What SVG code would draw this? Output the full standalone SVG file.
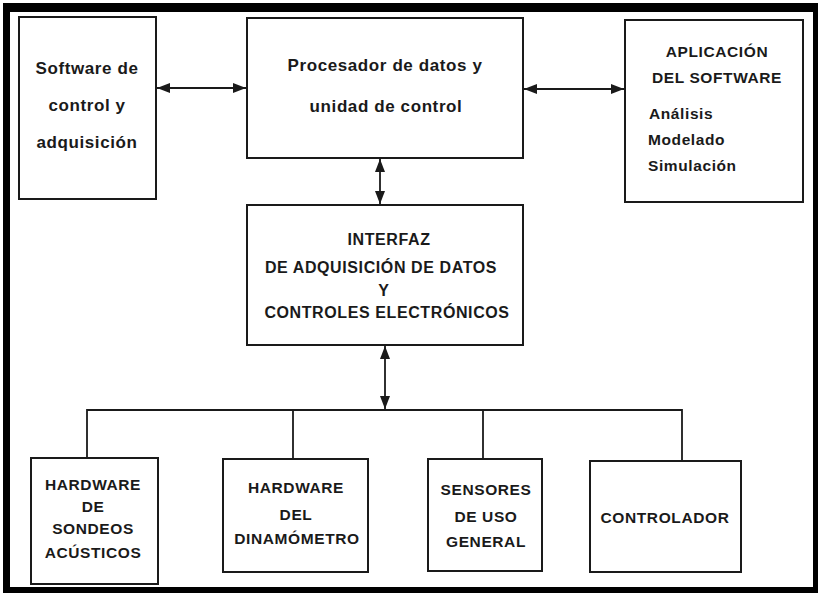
<svg xmlns="http://www.w3.org/2000/svg" width="821" height="595" viewBox="0 0 821 595">
<defs>
<style>
.box{fill:#fff;stroke:#1a1a1a;stroke-width:2}
.ln{fill:none;stroke:#1a1a1a;stroke-width:1.8}
.t{font-family:"Liberation Sans",Arial,sans-serif;font-weight:bold;fill:#1a1a1a;text-anchor:middle;letter-spacing:0.6px}
.l{text-anchor:start}
</style>
<marker id="ah" viewBox="0 0 13 10" refX="13" refY="5" markerWidth="13" markerHeight="10" markerUnits="userSpaceOnUse" orient="auto-start-reverse">
<path d="M0,0 L13,5 L0,10 z" fill="#1a1a1a"/>
</marker>
</defs>
<rect x="0" y="0" width="821" height="595" fill="#fff"/>
<rect x="3" y="3" width="815" height="590" fill="#000"/>
<rect x="10" y="12" width="803" height="575" fill="#fff"/>

<g id="connectors">
<line class="ln" x1="157" y1="88" x2="246" y2="88" marker-start="url(#ah)" marker-end="url(#ah)"/>
<line class="ln" x1="524" y1="89" x2="624" y2="89" marker-start="url(#ah)" marker-end="url(#ah)"/>
<line class="ln" x1="380" y1="159" x2="380" y2="204" marker-start="url(#ah)" marker-end="url(#ah)"/>
<line class="ln" x1="385" y1="346" x2="385" y2="409" marker-start="url(#ah)" marker-end="url(#ah)"/>
<polyline class="ln" points="87,458 87,410 682,410 682,460"/>
<line class="ln" x1="293" y1="410" x2="293" y2="459"/>
<line class="ln" x1="483" y1="410" x2="483" y2="459"/>
</g>

<g id="software">
<rect class="box" x="19" y="17" width="137" height="182"/>
<text class="t" x="87" y="74" font-size="17">Software de</text>
<text class="t" x="87" y="111" font-size="17">control y</text>
<text class="t" x="87" y="148" font-size="17">adquisición</text>
</g>

<g id="procesador">
<rect class="box" x="247" y="18" width="276" height="140"/>
<text class="t" x="385" y="71" font-size="17">Procesador de datos y</text>
<text class="t" x="386" y="112" font-size="17">unidad de control</text>
</g>

<g id="aplicacion">
<rect class="box" x="625" y="20" width="178" height="182"/>
<text class="t" x="717" y="57" font-size="15.5">APLICACIÓN</text>
<text class="t" x="717" y="83" font-size="15.5">DEL SOFTWARE</text>
<text class="t l" x="649" y="119" font-size="15.5">Análisis</text>
<text class="t l" x="648" y="145" font-size="15.5">Modelado</text>
<text class="t l" x="648" y="171" font-size="15.5">Simulación</text>
</g>

<g id="interfaz">
<rect class="box" x="247" y="205" width="276" height="140"/>
<text class="t" x="389" y="245" font-size="16">INTERFAZ</text>
<text class="t" x="381" y="273" font-size="16">DE ADQUISICIÓN DE DATOS</text>
<text class="t" x="384" y="296" font-size="16">Y</text>
<text class="t" x="387" y="318" font-size="16">CONTROLES ELECTRÓNICOS</text>
</g>

<g id="sondeos">
<rect class="box" x="31" y="458" width="127" height="126"/>
<text class="t" x="93" y="490" font-size="15.5">HARDWARE</text>
<text class="t" x="93" y="512" font-size="15.5">DE</text>
<text class="t" x="93" y="534" font-size="15.5">SONDEOS</text>
<text class="t" x="93" y="558" font-size="15.5">ACÚSTICOS</text>
</g>

<g id="dinamometro">
<rect class="box" x="223" y="459" width="145" height="113"/>
<text class="t" x="296" y="493" font-size="15.5">HARDWARE</text>
<text class="t" x="296" y="520" font-size="15.5">DEL</text>
<text class="t" x="297" y="544" font-size="15.5">DINAMÓMETRO</text>
</g>

<g id="sensores">
<rect class="box" x="428" y="459" width="114" height="112"/>
<text class="t" x="486" y="495" font-size="15.5">SENSORES</text>
<text class="t" x="486" y="522" font-size="15.5">DE USO</text>
<text class="t" x="486" y="547" font-size="15.5">GENERAL</text>
</g>

<g id="controlador">
<rect class="box" x="590" y="461" width="151" height="111"/>
<text class="t" x="665" y="523" font-size="15.5">CONTROLADOR</text>
</g>
</svg>
